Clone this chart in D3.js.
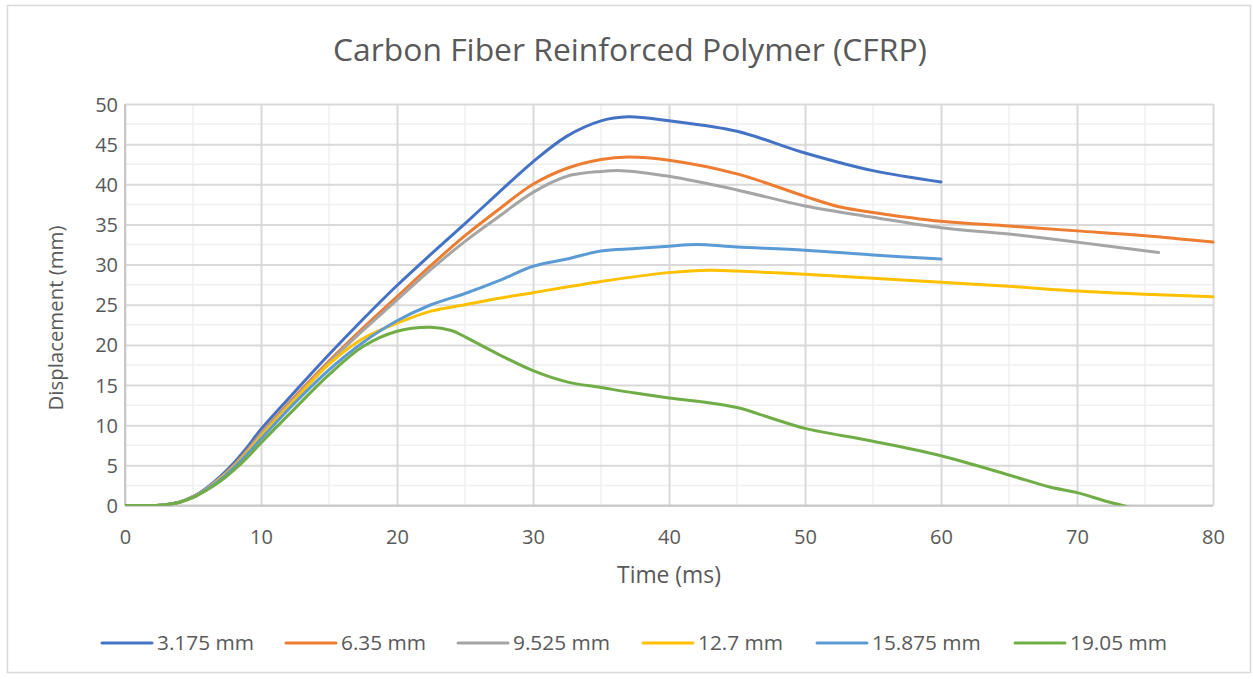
<!DOCTYPE html>
<html><head><meta charset="utf-8">
<script src="https://cdn.jsdelivr.net/npm/d3@7"></script>
<style>html,body{margin:0;padding:0;background:#fff;}svg{display:block;}</style>
</head><body>
<svg id="chart" width="1253" height="679"></svg>
<script>
const title = "Carbon Fiber Reinforced Polymer (CFRP)";
const xTitle = "Time (ms)";
const yTitle = "Displacement (mm)";
const xTicks = [0,10,20,30,40,50,60,70,80];
const yTicks = [0,5,10,15,20,25,30,35,40,45,50];
const seriesNames = ["3.175 mm","6.35 mm","9.525 mm","12.7 mm","15.875 mm","19.05 mm"];
const seriesColors = ["#4472C4","#ED7D31","#A5A5A5","#FFC000","#5B9BD5","#70AD47"];

const t1 = [0,2,3,4,5,6,7,8,9,10,12.5,15,17.5,20,22.5,25,27.5,30,32.5,35,37,40,45,50,55,60];
const v1 = [0,0,0.1,0.4,1.1,2.2,3.6,5.3,7.3,9.5,14.2,18.8,23.2,27.4,31.3,35.1,39.0,42.8,46.0,47.9,48.4,47.9,46.6,43.9,41.7,40.3];

const t2 = [0,2,3,4,5,6,7,8,9,10,12.5,15,17.5,20,22.5,25,27.5,30,32.5,35,37,40,45,50,52.5,55,60,65,70,75,80];
const v2 = [0,0,0.1,0.4,1.1,2.1,3.4,5.0,6.9,9.0,13.6,18.0,22.1,26.0,29.9,33.6,36.9,40.0,42.0,43.1,43.4,43.0,41.3,38.5,37.2,36.5,35.4,34.8,34.2,33.6,32.8];

const t3 = [0,2,3,4,5,6,7,8,9,10,12.5,15,17.5,20,22.5,25,27.5,30,32.5,35,36.5,40,45,50,55,60,65,70,76];
const v3 = [0,0,0.1,0.4,1.1,2.1,3.4,4.9,6.8,8.9,13.4,17.8,21.8,25.6,29.4,32.9,36.0,39.0,41.0,41.6,41.7,41.0,39.3,37.3,35.9,34.6,33.8,32.8,31.5];

const t4 = [0,2,3,4,5,6,7,8,9,10,12.5,15,17.5,20,22.5,25,27.5,30,35,40,43,45,50,55,60,65,70,75,80];
const v4 = [0,0,0.1,0.4,1.0,2.0,3.3,4.8,6.6,8.6,13.2,17.6,20.8,22.7,24.2,25.0,25.8,26.5,27.9,29.0,29.3,29.2,28.8,28.3,27.8,27.3,26.7,26.3,26.0];

const t5 = [0,2,3,4,5,6,7,8,9,10,12.5,15,17.5,20,22.5,25,27.5,30,32.5,35,37.5,40,42,45,50,55,60];
const v5 = [0,0,0.1,0.4,1.0,2.0,3.2,4.7,6.4,8.3,12.8,16.9,20.3,23.0,25.0,26.4,28.0,29.8,30.7,31.7,32.0,32.3,32.5,32.2,31.8,31.2,30.7];

const t6 = [0,2,3,4,5,6,7,8,9,10,12.5,15,17.5,20,22.5,24,25,27.5,30,32.5,35,37.5,40,42.5,45,47.5,50,55,60,65,68,70,72,74,76];
const v6 = [0,0,0.1,0.4,1.0,1.9,3.0,4.4,6.0,7.8,12.1,16.3,19.8,21.7,22.2,21.8,21.0,18.8,16.8,15.4,14.7,14.0,13.4,12.9,12.2,10.9,9.6,8.0,6.2,3.8,2.3,1.6,0.6,-0.3,-1.3];

const seriesT = [t1,t2,t3,t4,t5,t6];
const seriesV = [v1,v2,v3,v4,v5,v6];

const svg = d3.select("#chart");
const W = 1253, H = 679;
const x = d3.scaleLinear().domain([0,80]).range([125,1213]);
const y = d3.scaleLinear().domain([0,50]).range([505.5,104]);
const textColor = "#595959";
const font = "'Open Sans', sans-serif";

svg.append("rect").attr("x",0).attr("y",0).attr("width",W).attr("height",H).attr("fill","#fff");
svg.append("rect").attr("x",7.5).attr("y",5.5).attr("width",1243).attr("height",667)
  .attr("fill","#fff").attr("stroke","#d9d9d9").attr("stroke-width",1.5);

function fit(sel, target){
  const n = sel.node();
  const fs = parseFloat(sel.attr("font-size"));
  const w = n.getComputedTextLength();
  if (w>0) sel.attr("font-size", (fs*target/w).toFixed(2));
  return parseFloat(sel.attr("font-size"));
}

// minor gridlines
const minorX = d3.range(5,80,10);
const minorY = d3.range(2.5,50,5);
const g = svg.append("g");
g.selectAll(".mx").data(minorX).join("line")
  .attr("x1",d=>x(d)).attr("x2",d=>x(d)).attr("y1",y(0)).attr("y2",y(50))
  .attr("stroke","#efefef").attr("stroke-width",1.5);
g.selectAll(".my").data(minorY).join("line")
  .attr("x1",x(0)).attr("x2",x(80)).attr("y1",d=>y(d)).attr("y2",d=>y(d))
  .attr("stroke","#efefef").attr("stroke-width",1.5);

// major gridlines via axes
const xGrid = d3.axisBottom(x).tickValues(xTicks).tickSize(-(y(0)-y(50))).tickFormat("");
const yGrid = d3.axisLeft(y).tickValues(yTicks).tickSize(-(x(80)-x(0))).tickFormat("");
const gx = svg.append("g").attr("transform",`translate(0,${y(0)})`).call(xGrid);
gx.select(".domain").remove();
gx.selectAll("line").attr("stroke","#d9d9d9").attr("stroke-width",2);
const gy = svg.append("g").attr("transform",`translate(${x(0)},0)`).call(yGrid);
gy.select(".domain").remove();
gy.selectAll("line").attr("stroke","#d9d9d9").attr("stroke-width",2);

// axis lines
svg.append("line").attr("x1",x(0)).attr("x2",x(80)).attr("y1",y(0)).attr("y2",y(0)).attr("stroke","#c8c8c8").attr("stroke-width",2);
svg.append("line").attr("x1",x(0)).attr("x2",x(0)).attr("y1",y(0)).attr("y2",y(50)).attr("stroke","#c8c8c8").attr("stroke-width",2);

// tick labels
const xAx = d3.axisBottom(x).tickValues(xTicks).tickSize(0).tickPadding(0);
const xl = svg.append("g").attr("transform",`translate(0,${y(0)})`).call(xAx);
xl.select(".domain").remove();
xl.selectAll("text").attr("y",38).attr("dy",null).attr("font-size",20).attr("font-family",font).attr("fill",textColor);
const yAx = d3.axisLeft(y).tickValues(yTicks).tickSize(0).tickPadding(0);
const yl = svg.append("g").attr("transform",`translate(${x(0)},0)`).call(yAx);
yl.select(".domain").remove();
yl.selectAll("text").attr("x",-7).attr("dy","0.35em").attr("font-size",20).attr("font-family",font).attr("fill",textColor);

// lines
svg.append("clipPath").attr("id","plotclip").append("rect")
  .attr("x",x(0)).attr("y",y(50)-5).attr("width",x(80)-x(0)+5).attr("height",y(0)-y(50)+5);
const line = d3.line().x(d=>x(d[0])).y(d=>y(d[1])).curve(d3.curveCatmullRom.alpha(0.5));
const lg = svg.append("g").attr("clip-path","url(#plotclip)");
seriesNames.forEach((name,i)=>{
  const pts = seriesT[i].map((t,j)=>[t,seriesV[i][j]]);
  lg.append("path").datum(pts).attr("d",line).attr("fill","none")
    .attr("stroke",seriesColors[i]).attr("stroke-width",3).attr("stroke-linejoin","round").attr("stroke-linecap","round");
});

// title
const tt = svg.append("text").attr("x",630).attr("y",61).attr("text-anchor","middle")
  .attr("font-size",29).attr("font-family",font).attr("fill",textColor).text(title);
fit(tt,594);
const xt = svg.append("text").attr("x",669).attr("y",583).attr("text-anchor","middle")
  .attr("font-size",22).attr("font-family",font).attr("fill",textColor).text(xTitle);
fit(xt,104);
const yt = svg.append("text").attr("transform","translate(63,318) rotate(-90)").attr("text-anchor","middle")
  .attr("font-size",21).attr("font-family",font).attr("fill",textColor).text(yTitle);
fit(yt,185);

// legend
const legX = [102,286,458,643,817,1015];
const leg = svg.append("g");
let legFs = 19;
seriesNames.forEach((name,i)=>{
  leg.append("line").attr("x1",legX[i]).attr("x2",legX[i]+50).attr("y1",643).attr("y2",643)
    .attr("stroke",seriesColors[i]).attr("stroke-width",3).attr("stroke-linecap","round");
  const t = leg.append("text").attr("x",legX[i]+55).attr("y",643).attr("dy","0.35em")
    .attr("font-size",legFs).attr("font-family",font).attr("fill",textColor).text(name);
  if (i===0) legFs = fit(t,97);
});
</script>
</body></html>
